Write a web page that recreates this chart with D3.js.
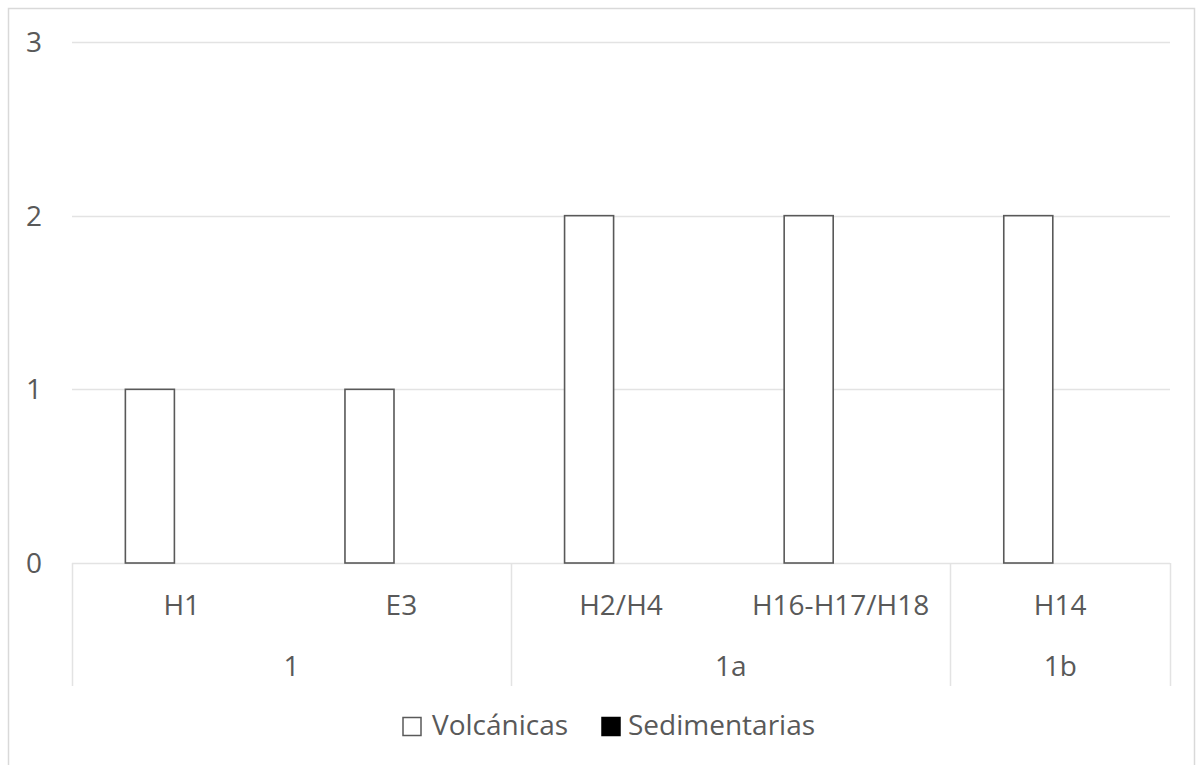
<!DOCTYPE html>
<html>
<head>
<meta charset="utf-8">
<script src="https://cdn.jsdelivr.net/npm/d3@7"></script>
<style>
  html, body { margin: 0; padding: 0; background: #ffffff; }
  svg { display: block; }
  text { font-family: "Open Sans", "Liberation Sans", sans-serif; fill: #595959; }
</style>
</head>
<body>
<svg id="chart" width="1196" height="765"></svg>
<script>
// ---- data ----
const categories = ["H1", "E3", "H2/H4", "H16-H17/H18", "H14"];
const groups = ["1", "1", "1a", "1a", "1b"];
const seriesNames = ["Volcánicas", "Sedimentarias"];
const volcanicas = [1, 1, 2, 2, 2];
const sedimentarias = [0, 0, 0, 0, 0];
const yTicks = [0, 1, 2, 3];

const seriesValues = [volcanicas, sedimentarias];
const seriesFill = ["#ffffff", "#000000"];
const seriesStroke = ["#595959", "#000000"];

const svg = d3.select("#chart");
const FS = "28px";

// chart border
svg.append("rect")
  .attr("x", 8.5).attr("y", 8.5)
  .attr("width", 1186).attr("height", 770)
  .attr("fill", "#ffffff").attr("stroke", "#d9d9d9").attr("stroke-width", 1.5);

const plot = { left: 72, right: 1170, top: 42, bottom: 563 };

const x = d3.scaleBand().domain(d3.range(categories.length))
  .range([plot.left, plot.right]).paddingInner(0).paddingOuter(0);
const xSub = d3.scaleBand().domain(d3.range(seriesNames.length))
  .range([0, x.bandwidth()]).paddingInner(0.232).paddingOuter(0.836);
const y = d3.scaleLinear().domain([0, 3]).range([plot.bottom, plot.top]);

// gridlines
svg.append("g").selectAll("line").data(yTicks).join("line")
  .attr("x1", plot.left).attr("x2", plot.right)
  .attr("y1", d => Math.round(y(d)) + 0.5).attr("y2", d => Math.round(y(d)) + 0.5)
  .attr("stroke", "#e3e3e3").attr("stroke-width", 1.5);

// y labels
svg.append("g").selectAll("text").data(yTicks).join("text")
  .attr("x", 42).attr("y", d => y(d))
  .attr("dy", "0.36em")
  .attr("text-anchor", "end")
  .style("font-size", FS)
  .text(d => d);

// bars
seriesValues.forEach((vals, s) => {
  svg.append("g").selectAll("rect").data(vals).join("rect")
    .attr("x", (d, i) => x(i) + xSub(s))
    .attr("y", d => y(d))
    .attr("width", xSub.bandwidth())
    .attr("height", d => y(0) - y(d))
    .attr("fill", seriesFill[s])
    .attr("stroke", d => d > 0 ? seriesStroke[s] : "none")
    .attr("stroke-width", 1.6);
});

// multi-level category axis
const catY = 615, grpY = 676, axisBottom = 686;
svg.append("g").selectAll("text").data(categories).join("text")
  .attr("x", (d, i) => x(i) + x.bandwidth() / 2)
  .attr("y", catY)
  .attr("text-anchor", "middle")
  .style("font-size", FS)
  .text(d => d);

// group spans
const groupSpans = [];
groups.forEach((g, i) => {
  const last = groupSpans[groupSpans.length - 1];
  if (last && last.name === g) last.end = i;
  else groupSpans.push({ name: g, start: i, end: i });
});
svg.append("g").selectAll("text").data(groupSpans).join("text")
  .attr("x", d => (x(d.start) + x(d.end) + x.bandwidth()) / 2)
  .attr("y", grpY)
  .attr("text-anchor", "middle")
  .style("font-size", FS)
  .text(d => d.name);

const dividers = groupSpans.map(d => x(d.start)).concat([x(groupSpans[groupSpans.length - 1].end) + x.bandwidth()]);
svg.append("g").selectAll("line").data(dividers).join("line")
  .attr("x1", d => Math.round(d) + 0.5).attr("x2", d => Math.round(d) + 0.5)
  .attr("y1", y(0)).attr("y2", axisBottom)
  .attr("stroke", "#e3e3e3").attr("stroke-width", 1.5);

// legend
const legend = svg.append("g");
const legendItems = [
  { name: seriesNames[0], sx: 403, tx: 432 },
  { name: seriesNames[1], sx: 602, tx: 628 }
];
legendItems.forEach((it, s) => {
  legend.append("rect")
    .attr("x", it.sx).attr("y", 717.5)
    .attr("width", 18).attr("height", 18)
    .attr("fill", seriesFill[s]).attr("stroke", seriesStroke[s]).attr("stroke-width", 1.5);
  legend.append("text")
    .attr("x", it.tx).attr("y", 735)
    .style("font-size", FS)
    .text(it.name);
});
</script>
</body>
</html>
